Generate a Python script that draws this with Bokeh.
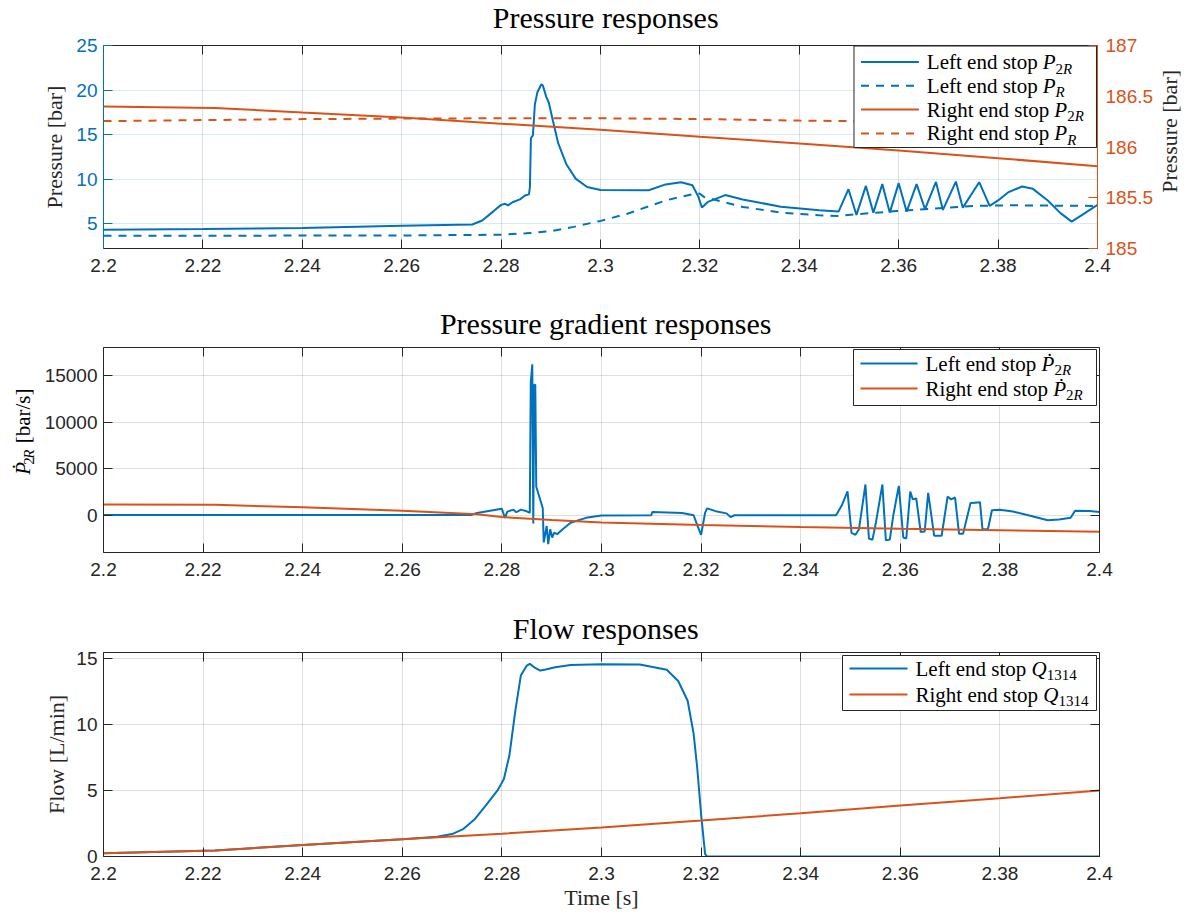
import math
from bokeh.plotting import figure
from bokeh.models import (Range1d, LinearAxis, FixedTicker, Label, BoxAnnotation,
                          Arrow, CustomJSTickFormatter)
from bokeh.layouts import column, row
from bokeh.embed import file_html
from bokeh.resources import INLINE

# ---------------- data ----------------
x_ticks = [2.2, 2.22, 2.24, 2.26, 2.28, 2.3, 2.32, 2.34, 2.36, 2.38, 2.4]
p_left_ticks = [5, 10, 15, 20, 25]
p_right_ticks = [185, 185.5, 186, 186.5, 187]
dp_ticks = [0, 5000, 10000, 15000]
q_ticks = [0, 5, 10, 15]

# Pressure responses (left axis, bar)
t_p2r_left = [2.2000, 2.2200, 2.2400, 2.2600, 2.2742, 2.2762, 2.2785, 2.2800, 2.2808, 2.2814,
              2.2823, 2.2838, 2.2848, 2.2856, 2.2858, 2.2860, 2.2864, 2.2868, 2.2873, 2.2881,
              2.2884, 2.2891, 2.2896, 2.2904, 2.2915, 2.2931, 2.2950, 2.2973, 2.3000, 2.3097,
              2.3131, 2.3162, 2.3185, 2.3197, 2.3204, 2.3216, 2.3251, 2.3286, 2.3363, 2.3440,
              2.3479, 2.3499, 2.3515, 2.3534, 2.3549, 2.3567, 2.3582, 2.3600, 2.3616, 2.3636,
              2.3653, 2.3675, 2.3689, 2.3715, 2.3729, 2.3762, 2.3783, 2.3800, 2.3820, 2.3848,
              2.3870, 2.3900, 2.3925, 2.3948, 2.3970, 2.4000]
p2r_left = [4.30, 4.38, 4.50, 4.75, 4.90, 5.35, 6.40, 7.10, 7.22, 7.04,
            7.40, 7.72, 8.15, 8.28, 9.10, 14.60, 14.90, 18.40, 19.75, 20.65,
            20.50, 19.20, 18.60, 16.60, 14.00, 11.70, 10.05, 9.10, 8.78, 8.74,
            9.40, 9.65, 9.30, 8.00, 6.80, 7.43, 8.20, 7.70, 6.90, 6.50,
            6.35, 8.86, 5.97, 9.23, 6.23, 9.43, 6.23, 9.54, 6.34, 9.43,
            6.61, 9.68, 6.53, 9.72, 6.79, 9.65, 6.98, 7.60, 8.50, 9.16,
            8.90, 7.60, 6.20, 5.22, 6.00, 7.10]

t_pr_left = [2.2000, 2.2400, 2.2600, 2.2800, 2.2850, 2.2900, 2.2946, 2.3000, 2.3054, 2.3131,
             2.3193, 2.3200, 2.3208, 2.3247, 2.3286, 2.3363, 2.3440, 2.3479, 2.3517, 2.3595,
             2.3672, 2.3749, 2.3826, 2.4000]
pr_left = [3.62, 3.65, 3.66, 3.75, 3.90, 4.14, 4.63, 5.30, 6.10, 7.60,
           8.40, 8.35, 8.00, 7.43, 6.87, 6.23, 5.93, 5.86, 6.05, 6.40,
           6.68, 6.98, 7.05, 6.98]

# Pressure responses (right axis, bar)
t_p2r_right = [2.2000, 2.2224, 2.2400, 2.2600, 2.2800, 2.3000, 2.3200, 2.3400, 2.3600, 2.3800, 2.4000]
p2r_right = [186.40, 186.385, 186.34, 186.29, 186.23, 186.17, 186.10, 186.035, 185.965, 185.89, 185.81]
t_pr_right = [2.2000, 2.2200, 2.2400, 2.2600, 2.2800, 2.3000, 2.3200, 2.3400, 2.3600, 2.3800, 2.4000]
pr_right = [186.255, 186.265, 186.275, 186.28, 186.283, 186.283, 186.275, 186.26, 186.25, 186.24, 186.23]

# Pressure gradient responses (bar/s)
t_dp_left = [2.2000, 2.2738, 2.2750, 2.2800, 2.2806, 2.2811, 2.2823, 2.2829, 2.2838, 2.2850,
             2.2856, 2.2858, 2.2861, 2.2863, 2.2865, 2.2867, 2.2869, 2.2873, 2.2882, 2.2884,
             2.2890, 2.2893, 2.2897, 2.2901, 2.2905, 2.2911, 2.2922, 2.2938, 2.2969, 2.3000,
             2.3100, 2.3102, 2.3162, 2.3185, 2.3193, 2.3200, 2.3208, 2.3212, 2.3232, 2.3251,
             2.3259, 2.3267, 2.3463, 2.3471, 2.3483, 2.3494, 2.3502, 2.3510, 2.3517, 2.3530,
             2.3537, 2.3544, 2.3551, 2.3564, 2.3571, 2.3579, 2.3586, 2.3597, 2.3606, 2.3612,
             2.3616, 2.3620, 2.3625, 2.3632, 2.3641, 2.3649, 2.3656, 2.3668, 2.3683, 2.3695,
             2.3702, 2.3710, 2.3718, 2.3726, 2.3741, 2.3750, 2.3760, 2.3765, 2.3776, 2.3784,
             2.3800, 2.3826, 2.3865, 2.3896, 2.3919, 2.3942, 2.3951, 2.3980, 2.4000]
dp_left = [30, 30, 250, 700, -280, 390, 600, 320, 600, 420,
           250, 14300, 16200, -880, 14000, 14000, 3060, 2360, 780, -2920,
           -1160, -3100, -1510, -2390, -1870, -2040, -1510, -810, -280, -35,
           0, 350, 250, 0, -1160, -2100, 250, 740, 390, 200,
           -200, 0, 0, 0, 1100, 2550, -1900, -2100, -1500, 3300,
           -2500, -2650, -800, 3300, -2700, -2600, 0, 3150, -2400, -2500,
           0, 2550, 1700, 1800, -1800, -1750, 2400, -2200, -2200, 2000,
           1700, 1900, -2000, -2000, 1300, 1350, 1400, -1500, -1500, 530,
           600, 390, -100, -530, -450, -280, 490, 460, 350]
t_dp_right = [2.2000, 2.2224, 2.2400, 2.2600, 2.2750, 2.2800, 2.2900, 2.3000, 2.3200, 2.3400,
              2.3600, 2.3800, 2.4000]
dp_right = [1150, 1120, 850, 480, 100, -200, -520, -780, -1060, -1260,
            -1440, -1600, -1760]

# Flow responses (L/min)
t_q_left = [2.2000, 2.2224, 2.2400, 2.2600, 2.2670, 2.2700, 2.2723, 2.2746, 2.2769, 2.2792,
            2.2804, 2.2815, 2.2827, 2.2838, 2.2850, 2.2856, 2.2865, 2.2877, 2.2888, 2.2907,
            2.2938, 2.3000, 2.3077, 2.3131, 2.3154, 2.3173, 2.3185, 2.3192, 2.3200, 2.3208,
            2.3212, 2.4000]
q_left = [0.25, 0.45, 0.87, 1.31, 1.50, 1.70, 2.10, 2.85, 3.94, 5.05,
          5.88, 7.65, 11.06, 13.71, 14.47, 14.60, 14.34, 14.09, 14.17, 14.34,
          14.52, 14.57, 14.55, 14.15, 13.30, 11.80, 9.30, 6.80, 3.20, 0.20,
          0.0, 0.0]
t_q_right = [2.2000, 2.2224, 2.2400, 2.2600, 2.2800, 2.3000, 2.3200, 2.3400, 2.3600, 2.3800, 2.4000]
q_right = [0.25, 0.45, 0.87, 1.31, 1.73, 2.20, 2.72, 3.28, 3.86, 4.42, 5.00]

# ---------------- style ----------------
BLUE = "#0072BD"
ORANGE = "#D95319"
DARK = "#262626"
SERIF = "Liberation Serif"
SANS = "Liberation Sans"
TICK_FS = "19px"
LABEL_FS = "22px"
TITLE_FS = 30
DASH = "8 7"
LW = 2
FW = 996
X_LIM = (2.2, 2.4)
LEG_FS = 21
SUB = 15
SUB_DY = 6.5

fmt = CustomJSTickFormatter(code="return String(parseFloat(tick.toFixed(6)));")
blank = CustomJSTickFormatter(code="return '';")

REG = {' ': 250, 'L': 611, 'e': 444, 'f': 333, 't': 278, 'n': 500, 'd': 500, 's': 389,
       'o': 500, 'p': 500, 'R': 667, 'i': 278, 'g': 500, 'h': 500, '[': 333, ']': 333,
       'b': 500, 'a': 444, 'r': 333, '/': 278}
ITA = {'P': 611, 'R': 611, 'Q': 722, '\u1E56': 611}


def text_w(s, italic, size):
    tab = ITA if italic else REG
    return sum(tab.get(c, 500) for c in s) / 1000.0 * size


def rich(p, conv, px, py, pieces, angle=0.0):
    """Place a run of text pieces; px right, py down (pixels) -> data via conv."""
    cur = 0.0
    for s, italic, size, dy in pieces:
        lead = len(s) - len(s.lstrip(" "))
        cur += text_w(s[:lead], italic, size)
        body = s[lead:]
        if angle == 0.0:
            x, y = conv(px + cur, py + dy)
        else:
            x, y = conv(px + dy, py - cur)
        p.add_layout(Label(x=x, y=y, text=body, angle=angle,
                           text_font=SERIF, text_font_size=f"{size}px",
                           text_font_style="italic" if italic else "normal",
                           text_color="#000000", text_align="left",
                           text_baseline="middle"))
        cur += text_w(body, italic, size)


def frame_conv(yl, fh):
    def conv(px, py):
        x = X_LIM[0] + px / FW * (X_LIM[1] - X_LIM[0])
        y = yl[1] - py / fh * (yl[1] - yl[0])
        return x, y
    return conv


def legend(p, conv, box, rows, line_x, text_x):
    l, t, r, b = box
    x0, y0 = conv(l, t)
    x1, y1 = conv(r, b)
    p.add_layout(BoxAnnotation(left=x0, right=x1, top=y0, bottom=y1,
                               fill_color="white", fill_alpha=1.0,
                               line_color=DARK, line_alpha=1.0, line_width=1))
    for yc, color, dash, pieces in rows:
        xa, ya = conv(line_x[0], yc)
        xb, _ = conv(line_x[1], yc)
        p.add_layout(Arrow(end=None, start=None, x_start=xa, y_start=ya, x_end=xb, y_end=ya,
                           line_color=color, line_width=LW, line_dash=dash))
        rich(p, conv, text_x, yc, pieces)


def style_axis(ax, ticks, line_color, label_color, labels=True, standoff=6):
    ax.ticker = FixedTicker(ticks=ticks)
    ax.formatter = fmt if labels else blank
    ax.axis_line_color = line_color
    ax.axis_line_width = 1
    ax.major_tick_line_color = line_color
    ax.major_tick_in = 9
    ax.major_tick_out = 0
    ax.minor_tick_line_color = None
    ax.major_label_text_color = label_color
    ax.major_label_text_font = SANS
    ax.major_label_text_font_size = TICK_FS if labels else "0px"
    ax.major_label_standoff = standoff if labels else 0
    ax.axis_label_text_font = SERIF
    ax.axis_label_text_font_size = LABEL_FS
    ax.axis_label_text_font_style = "normal"
    ax.axis_label_text_color = DARK


def make_fig(width, height, left, right, top, bottom, yl):
    p = figure(width=width, height=height, x_range=Range1d(*X_LIM), y_range=Range1d(*yl),
               output_backend="svg", toolbar_location=None, title=None,
               min_border_left=left, min_border_right=right, min_border_top=top,
               min_border_bottom=bottom, background_fill_color="white",
               border_fill_color="white", outline_line_color=None)
    style_axis(p.below[0], x_ticks, DARK, DARK, standoff=10)
    top_ax = LinearAxis()
    style_axis(top_ax, x_ticks, DARK, DARK, labels=False)
    p.add_layout(top_ax, "above")
    p.xgrid.grid_line_color = DARK
    p.xgrid.grid_line_alpha = 0.15
    p.ygrid.grid_line_color = DARK
    p.ygrid.grid_line_alpha = 0.15
    return p


def text_fig(w, h):
    f = figure(width=w, height=h, x_range=Range1d(0, w), y_range=Range1d(0, h),
               output_backend="svg", toolbar_location=None, title=None,
               min_border_left=0, min_border_right=0, min_border_top=0, min_border_bottom=0,
               x_axis_location=None, y_axis_location=None, outline_line_color=None,
               background_fill_color="white", border_fill_color="white")
    f.grid.visible = False
    return f


def title_fig(text, h, center_from_top):
    f = text_fig(1192, h)
    f.add_layout(Label(x=601, y=h - center_from_top, text=text, text_font=SERIF,
                       text_font_size=f"{TITLE_FS}px", text_color="#000000",
                       text_align="center", text_baseline="middle"))
    return f


# ---------- Figure 1: pressure ----------
P_LIM = (2.2, 25)
PR_LIM = (185, 187)
FH1 = 203
TH1 = 34
H1 = 300 - TH1
t1 = title_fig("Pressure responses", TH1, 17)
p1 = make_fig(1156, H1, 103, 57, 11, 52, P_LIM)
style_axis(p1.left[0], p_left_ticks, BLUE, BLUE)
p1.left[0].axis_label = "Pressure [bar]"
p1.left[0].axis_label_standoff = 6
p1.ygrid.grid_line_color = BLUE
p1.extra_y_ranges = {"right": Range1d(*PR_LIM)}
rax = LinearAxis(y_range_name="right")
style_axis(rax, p_right_ticks, ORANGE, ORANGE, standoff=8)
p1.add_layout(rax, "right")

p1.line(t_p2r_left, p2r_left, line_color=BLUE, line_width=LW)
p1.line(t_pr_left, pr_left, line_color=BLUE, line_width=LW, line_dash=DASH)
p1.line(t_p2r_right, p2r_right, line_color=ORANGE, line_width=LW, y_range_name="right")
p1.line(t_pr_right, pr_right, line_color=ORANGE, line_width=LW, line_dash=DASH,
        y_range_name="right")

c1 = frame_conv(P_LIM, FH1)
legend(p1, c1, (752, 0.5, 995, 102),
       [(16.5, BLUE, "solid", [("Left end stop ", False, LEG_FS, 0), ("P", True, LEG_FS, 0),
                                ("2", False, SUB, SUB_DY), ("R", True, SUB, SUB_DY)]),
        (40.3, BLUE, DASH, [("Left end stop ", False, LEG_FS, 0), ("P", True, LEG_FS, 0),
                            ("R", True, SUB, SUB_DY)]),
        (64.1, ORANGE, "solid", [("Right end stop ", False, LEG_FS, 0), ("P", True, LEG_FS, 0),
                                  ("2", False, SUB, SUB_DY), ("R", True, SUB, SUB_DY)]),
        (87.9, ORANGE, DASH, [("Right end stop ", False, LEG_FS, 0), ("P", True, LEG_FS, 0),
                              ("R", True, SUB, SUB_DY)])],
       (759, 817), 825)

# right-hand axis title of figure 1 (reads bottom-to-top like MATLAB)
r1 = text_fig(36, H1)
r1.add_layout(Label(x=12.5, y=52 + 101.5, text="Pressure [bar]", angle=math.pi / 2,
                    text_font=SERIF, text_font_size=LABEL_FS, text_color=DARK,
                    text_align="center", text_baseline="middle"))

# ---------- Figure 2: pressure gradient ----------
DP_LIM = (-4000, 18000)
FH2 = 205
TH2 = 44
H2 = 305 - TH2
t2 = title_fig("Pressure gradient responses", TH2, 23)
p2 = make_fig(1152, H2, 63, 93, 3, 53, DP_LIM)
style_axis(p2.left[0], dp_ticks, DARK, DARK)
r2 = LinearAxis()
style_axis(r2, dp_ticks, DARK, DARK, labels=False)
p2.add_layout(r2, "right")
p2.line(t_dp_left, dp_left, line_color=BLUE, line_width=LW)
p2.line(t_dp_right, dp_right, line_color=ORANGE, line_width=LW)
c2 = frame_conv(DP_LIM, FH2)
legend(p2, c2, (750, 2, 993, 58),
       [(16, BLUE, "solid", [("Left end stop ", False, LEG_FS, 0), ("\u1E56", True, LEG_FS, 0),
                             ("2", False, SUB, SUB_DY), ("R", True, SUB, SUB_DY)]),
        (41, ORANGE, "solid", [("Right end stop ", False, LEG_FS, 0), ("\u1E56", True, LEG_FS, 0),
                               ("2", False, SUB, SUB_DY), ("R", True, SUB, SUB_DY)])],
       (757, 814), 822)

# left-hand axis title of figure 2 (dotted P with subscript), reads bottom-to-top
l2 = text_fig(40, H2)
rich(l2, lambda px, py: (px, H2 - py), 22.0, 506 - 300 - TH2,
     [("\u1E56", True, 21, 0), ("2", False, 15, 6.5), ("R", True, 15, 6.5),
      ("  [bar/s]", False, 21, 0)], angle=math.pi / 2)

# ---------- Figure 3: flow ----------
Q_LIM = (0, 15.46)
FH3 = 204
TH3 = 41
H3 = 310 - TH3
t3 = title_fig("Flow responses", TH3, 23)
p3 = make_fig(1192, H3, 103, 93, 6, 59, Q_LIM)
style_axis(p3.left[0], q_ticks, DARK, DARK)
p3.left[0].axis_label = "Flow [L/min]"
p3.left[0].axis_label_standoff = 4
p3.below[0].axis_label = "Time [s]"
p3.below[0].axis_label_standoff = 2
r3 = LinearAxis()
style_axis(r3, q_ticks, DARK, DARK, labels=False)
p3.add_layout(r3, "right")
p3.line(t_q_left, q_left, line_color=BLUE, line_width=LW)
p3.line(t_q_right, q_right, line_color=ORANGE, line_width=LW)
c3 = frame_conv(Q_LIM, FH3)
legend(p3, c3, (739, 3, 993, 58),
       [(16, BLUE, "solid", [("Left end stop ", False, LEG_FS, 0), ("Q", True, LEG_FS, 0),
                             ("1314", False, SUB, SUB_DY)]),
        (42, ORANGE, "solid", [("Right end stop ", False, LEG_FS, 0), ("Q", True, LEG_FS, 0),
                               ("1314", False, SUB, SUB_DY)])],
       (746, 804), 812)

layout = column(t1, row(p1, r1), t2, row(l2, p2), t3, p3)
open("out.html", "w").write(file_html(layout, INLINE))
